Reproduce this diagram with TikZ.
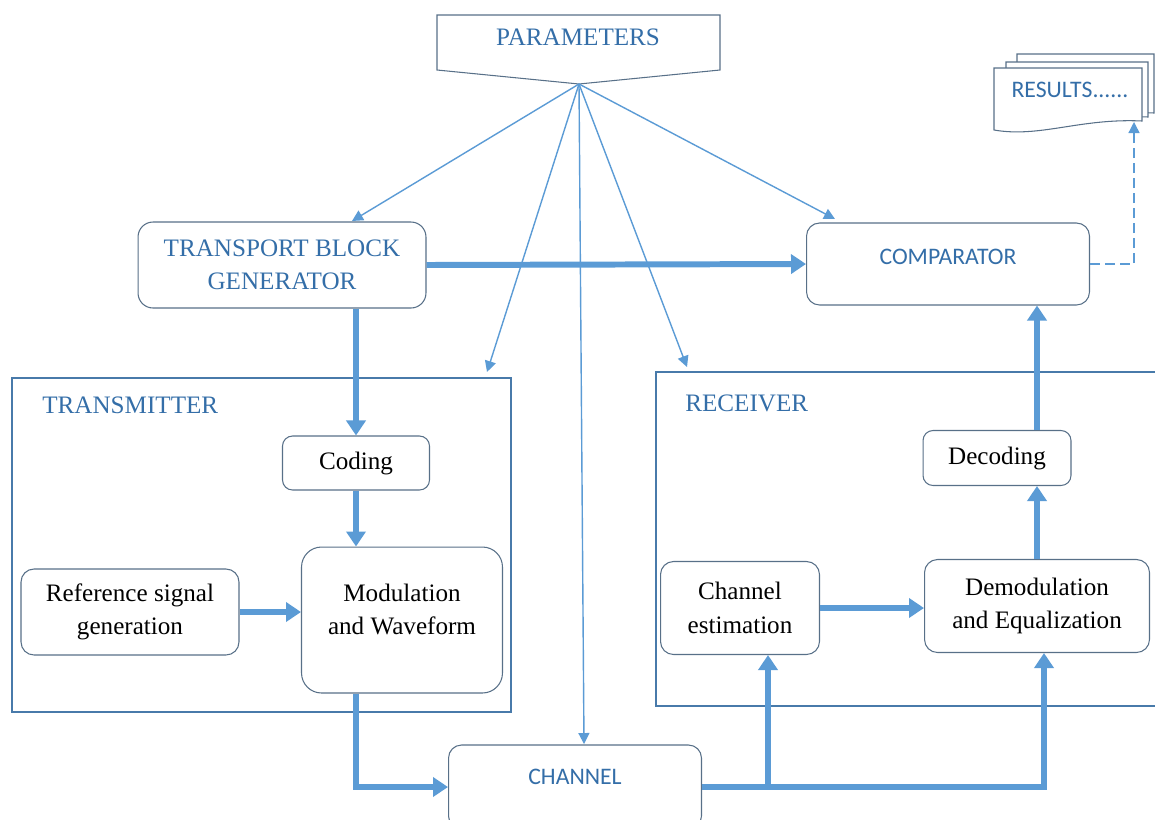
\documentclass[tikz,border=0pt]{standalone}
\usepackage{fontspec}
\setmainfont{Liberation Serif}
\newfontfamily\calib{Carlito}
\usepackage{tikz}
\usetikzlibrary{arrows.meta,positioning,calc}
\definecolor{flowblue}{RGB}{91,155,213}
\definecolor{headblue}{RGB}{52,110,168}
\definecolor{boxgray}{RGB}{88,112,136}
\definecolor{framblue}{RGB}{72,122,170}
\newcommand{\blkfont}{\fontsize{14.3}{19}\selectfont}
\newcommand{\capfont}{\calib\fontsize{13.5}{16}\selectfont}
\tikzset{
  blk/.style={draw=boxgray, line width=0.6pt, rounded corners=2.6mm, fill=white,
              align=center, inner sep=2pt, font=\blkfont},
  headblk/.style={blk, text=headblue},
  sansblk/.style={blk, text=headblue, font=\capfont},
  frame/.style={draw=framblue, line width=0.7pt},
  heading/.style={text=headblue, font=\blkfont, anchor=west, inner sep=0pt},
  sheet/.style={draw=boxgray, line width=0.6pt, fill=white},
  thickarrow/.style={-{Triangle[length=3mm,width=3.8mm]}, line width=3.4pt, draw=flowblue},
  thinarrow/.style={-{Triangle[length=2.2mm,width=2.2mm]}, line width=0.8pt, draw=flowblue},
  dasharrow/.style={thinarrow, dash pattern=on 2mm off 1mm}
}

\begin{document}
\begin{tikzpicture}[x=0.02cm, y=-0.02cm]
  \useasboundingbox (0,0) rectangle (1155,819);

  % transmitter and receiver frames
  \draw[frame] (12,378) rectangle (511,712);
  \draw[frame] (656,372) rectangle (1170,706);
  \node[heading] (txlabel) at (42,405) {TRANSMITTER};
  \node[heading] (rxlabel) at (685,403) {RECEIVER};

  % parameters
  \draw[sheet] (437,15) -- (720,15) -- (720,70) -- (579,84) -- (437,70) -- cycle;
  \node[text=headblue, font=\blkfont] (param) at (578,37) {PARAMETERS};
  \coordinate (ptip) at (579,84);

  % results (stack of documents)
  \draw[sheet] (1017,54) -- (1154,54) -- (1154,113) .. controls (1100,110) and (1060,128) .. (1017,122) -- cycle;
  \draw[sheet] (1006,62) -- (1148,62) -- (1148,117) .. controls (1090,114) and (1050,133) .. (1006,126) -- cycle;
  \draw[sheet] (994,68) -- (1142,68) -- (1142,121) .. controls (1080,118) and (1040,138) .. (994,130) -- cycle;
  \node[text=headblue, font=\capfont] (results) at (1070,90) {RESULTS......};
  \coordinate (res-in) at (1134,122);

  % blocks
  \node[headblk, minimum width=5.76cm, minimum height=1.72cm, rounded corners=3mm] (tbg) at (282,265) {TRANSPORT BLOCK\\GENERATOR};
  \node[sansblk, minimum width=5.66cm, minimum height=1.64cm, text depth=8pt] (comp) at (948,264) {COMPARATOR};
  \node[blk, minimum width=2.94cm, minimum height=1.08cm, rounded corners=2mm] (coding) at (356,463) {Coding};
  \node[blk, minimum width=4.02cm, minimum height=2.92cm, rounded corners=4mm, text depth=12pt] (mod) at (402,620) {Modulation\\and Waveform};
  \node[blk, minimum width=4.36cm, minimum height=1.72cm] (refsig) at (130,612) {Reference signal\\generation};
  \node[blk, minimum width=2.96cm, minimum height=1.1cm, rounded corners=2mm] (dec) at (997,458) {Decoding};
  \node[blk, minimum width=3.18cm, minimum height=1.86cm] (chest) at (740,608) {Channel\\estimation};
  \node[blk, minimum width=4.5cm, minimum height=1.86cm] (demod) at (1037,606) {Demodulation\\and Equalization};
  \node[sansblk, minimum width=5.06cm, minimum height=1.68cm, text depth=12pt] (chan) at (575,787) {CHANNEL};

  % parameter fan-out
  \coordinate (tbg-in) at (352,221);
  \coordinate (comp-in) at (835,219);
  \coordinate (tx-in) at (487,372);
  \coordinate (rx-in) at (687,367);
  \coordinate (chan-in) at (584,744);
  \foreach \t in {tbg-in,comp-in,tx-in,rx-in,chan-in}
    \draw[thinarrow] (ptip) -- (\t);

  % data flow
  \draw[thickarrow] (tbg.east) -- (comp.west);
  \draw[thickarrow] (tbg.south -| coding.north) -- (coding.north);
  \draw[thickarrow] (coding.south) -- (coding.south |- mod.north);
  \draw[thickarrow] (refsig.east) -- (refsig.east -| mod.west);
  \draw[thickarrow] (coding.south |- mod.south) -- (coding.south |- chan.west) -- (chan.west);
  \coordinate (split) at (768,787);
  \coordinate (demod-in) at ($(demod.south)+(7,0)$);
  \draw[thickarrow] (chan.east) -- (chan.east -| demod-in) -- (demod-in);
  \draw[thickarrow] (split) -- (split |- chest.south);
  \draw[thickarrow] (chest.east) -- (chest.east -| demod.west);
  \draw[thickarrow] (demod.north) -- (demod.north |- dec.south);
  \draw[thickarrow] (demod.north |- dec.north) -- (demod.north |- comp.south);
  \draw[dasharrow] (comp.east) -- (comp.east -| res-in) -- (res-in);
\end{tikzpicture}
\end{document}
